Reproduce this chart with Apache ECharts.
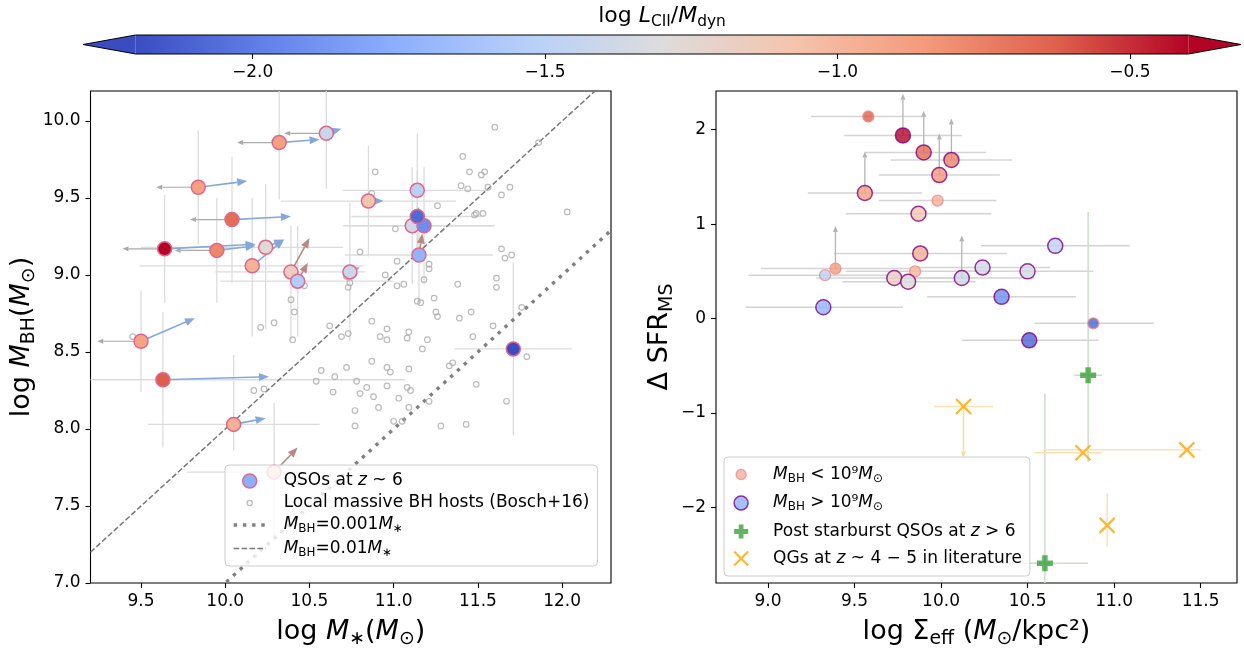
<!DOCTYPE html>
<html>
<head>
<meta charset="utf-8">
<script src="https://cdn.jsdelivr.net/npm/echarts@6/dist/echarts.min.js"></script>
<style>
  html, body { margin: 0; padding: 0; background: #ffffff; }
  #chart { width: 1244px; height: 656px; }
</style>
</head>
<body>
<div id="chart"></div>
<script>
// ---------------- data ----------------
// Left panel: z~6 quasars  [log M*, log M_BH, log L_CII/M_dyn]
const qsoMass = [
  [10.60, 9.92, -1.42], [10.32, 9.86, -0.88], [9.84, 9.57, -0.88], [10.04, 9.36, -0.68],
  [9.64, 9.17, -0.40], [9.95, 9.16, -0.78], [10.24, 9.18, -1.27], [10.16, 9.06, -0.98],
  [10.39, 9.02, -1.17], [10.43, 8.96, -1.55], [10.74, 9.02, -1.42], [10.85, 9.48, -1.08],
  [11.11, 9.32, -1.38], [11.18, 9.32, -1.92], [11.14, 9.38, -2.08], [11.14, 9.55, -1.50],
  [11.15, 9.13, -1.72], [9.50, 8.57, -0.90], [9.63, 8.32, -0.62], [10.05, 8.03, -0.97],
  [10.29, 7.72, -1.10], [11.71, 8.52, -2.20]
];
// uncertainties [x low, x high, y low, y high]
const qsoMassErr = [
  [0, 0, 0.36, 0.36], [0, 0, 0.37, 0.37], [0, 0, 0.37, 0.37], [0, 0, 0.41, 0.41],
  [0, 0, 0.35, 0.35], [0, 0, 0.34, 0.34], [0.74, 0.46, 0.53, 0.41], [0.67, 0.66, 0.46, 0.44],
  [0.45, 0.44, 0.44, 0.30], [0.46, 0.57, 0.36, 0.36], [0, 0, 0.45, 0.45], [0.52, 0.52, 0.36, 0.36],
  [0.41, 0.48, 0.38, 0.38], [0.45, 0.42, 0.38, 0.38], [0.39, 0.38, 0.30, 0.30], [0.44, 0.42, 0.37, 0.37],
  [0.44, 0.44, 0.31, 0.31], [0, 0, 0.33, 0.33], [1.44, 1.44, 0.44, 0.44], [0.51, 0.51, 0.17, 0.45],
  [0.52, 0.29, 0.45, 0.45], [0.35, 0.35, 0.56, 0.56]
];
// stellar-mass upper limits [x0, y0, x1, y1]
const mstarUpperLimits = [
  [10.60, 9.92, 10.35, 9.92], [10.32, 9.86, 10.07, 9.86], [9.84, 9.57, 9.59, 9.57],
  [10.04, 9.36, 9.79, 9.36], [9.64, 9.17, 9.39, 9.17], [9.95, 9.16, 9.70, 9.16],
  [9.50, 8.57, 9.24, 8.57]
];
// shifts toward the corrected estimates [x0, y0, x1, y1]
const shiftsBlue = [
  [10.60, 9.92, 10.69, 9.95], [10.32, 9.86, 10.56, 9.88], [9.84, 9.57, 10.13, 9.61],
  [10.04, 9.36, 10.39, 9.38], [9.64, 9.17, 10.18, 9.20], [9.95, 9.16, 10.18, 9.19],
  [10.24, 9.18, 10.35, 9.23], [10.16, 9.06, 10.35, 9.23], [10.74, 9.02, 10.80, 9.05],
  [10.85, 9.48, 10.94, 9.48], [9.50, 8.57, 9.82, 8.72], [9.63, 8.32, 10.26, 8.34],
  [10.05, 8.03, 10.24, 8.07]
];
const shiftsBrown = [
  [10.39, 9.02, 10.50, 9.24], [10.43, 8.96, 10.49, 9.08], [11.15, 9.13, 11.17, 9.27],
  [11.11, 9.32, 11.15, 9.44], [10.29, 7.72, 10.43, 7.88]
];
// local massive BH hosts (Bosch+16) [log M*, log M_BH]
const localBosch = [
  [10.89, 9.67], [10.87, 9.53], [10.80, 9.15], [10.95, 9.00], [10.72, 8.99], [10.74, 8.95],
  [10.73, 8.92], [10.47, 8.93], [10.39, 8.84], [10.41, 8.76], [10.29, 8.69], [10.21, 8.66],
  [10.62, 8.67], [10.87, 8.70], [10.96, 8.65], [10.69, 8.60], [10.73, 8.62], [10.92, 8.60],
  [9.45, 8.60], [10.40, 8.58], [11.60, 9.96], [11.86, 9.86], [11.41, 9.77], [11.45, 9.67],
  [11.52, 9.65], [11.54, 9.67], [11.40, 9.58], [11.44, 9.56], [11.56, 9.57], [11.69, 9.57],
  [11.64, 9.52], [11.26, 9.45], [11.48, 9.39], [11.49, 9.40], [11.53, 9.40], [12.03, 9.41],
  [11.01, 9.30], [11.02, 9.09], [11.64, 9.17], [11.66, 9.11], [11.70, 9.13], [11.21, 9.07],
  [11.21, 9.04], [11.02, 8.93], [11.06, 8.94], [11.18, 8.97], [11.38, 8.94], [11.61, 8.98],
  [11.61, 8.92], [11.14, 8.83], [11.16, 8.82], [11.24, 8.85], [11.25, 8.76], [11.26, 8.73],
  [11.46, 8.76], [11.39, 8.72], [11.76, 8.79], [11.59, 8.67], [11.09, 8.63], [11.08, 8.59],
  [11.20, 8.58], [11.47, 8.60], [10.96, 8.58], [10.17, 8.25], [10.23, 8.26], [10.57, 8.38],
  [10.65, 8.34], [10.72, 8.40], [10.54, 8.31], [10.64, 8.24], [10.78, 8.31], [10.80, 8.23],
  [10.84, 8.27], [10.88, 8.21], [10.87, 8.44], [10.96, 8.40], [10.96, 8.28], [10.91, 8.14],
  [10.77, 8.12], [10.77, 8.02], [11.17, 8.52], [10.98, 8.37], [11.09, 8.39], [11.08, 8.27],
  [11.10, 8.25], [11.03, 8.20], [11.00, 8.05], [11.05, 8.05], [11.09, 8.14], [11.21, 8.18],
  [11.33, 8.41], [11.35, 8.43], [11.49, 8.29], [11.28, 8.02], [11.43, 8.03], [11.67, 8.18],
  [11.79, 8.47]
];
// constant M_BH / M* ratios drawn as reference lines
const massRatios = [0.001, 0.01];

// Right panel: [log Sigma_eff, Delta SFR_MS, log L_CII/M_dyn]
const sigmaLowBH = [
  [9.58, 2.14, -0.62], [9.98, 1.25, -0.97], [9.39, 0.53, -0.86],
  [9.33, 0.46, -1.50], [9.85, 0.50, -1.00], [10.88, -0.05, -2.10]
];
const sigmaLowBHErr = [[0.33, 0.33], [0.34, 0.34], [0.43, 0.45], [0.44, 0.43], [0.40, 0.40], [0.34, 0.35]];
const sigmaHighBH = [
  [9.78, 1.94, -0.40], [9.90, 1.76, -0.66], [10.06, 1.68, -0.76], [9.99, 1.52, -0.84],
  [9.56, 1.33, -0.88], [9.87, 1.11, -1.08], [9.88, 0.69, -0.95], [9.73, 0.43, -1.17],
  [9.81, 0.39, -1.28], [10.12, 0.43, -1.40], [9.32, 0.12, -1.73], [10.66, 0.77, -1.50],
  [10.24, 0.54, -1.38], [10.50, 0.50, -1.37], [10.35, 0.23, -1.92], [10.51, -0.23, -2.10]
];
const sigmaHighBHErr = [
  [0.34, 0.34], [0.34, 0.36], [0.35, 0.35], [0.35, 0.35], [0.33, 0.33], [0.42, 0.42],
  [0.50, 0.50], [0.45, 0.45], [0.38, 0.39], [0.42, 0.42], [0.45, 0.46], [0.43, 0.43],
  [0.40, 0.39], [0.38, 0.38], [0.43, 0.43], [0.39, 0.40]
];
// SFR lower limits [x, y0, y1]
const sfrLowerLimits = [
  [9.78, 1.94, 2.38], [9.90, 1.76, 2.20], [10.06, 1.68, 2.12], [9.99, 1.52, 1.96],
  [9.56, 1.33, 1.77], [9.39, 0.53, 0.98], [10.12, 0.43, 0.88]
];
const postStarburst = [[10.85, -0.60], [10.60, -2.59]];
const postStarburstErr = [[0.08, 0.08, 0.92, 1.73], [0.26, 0.25, 1.80, 1.80]];
const quiescent = [[10.13, -0.93], [10.82, -1.42], [11.42, -1.39], [10.96, -2.19]];
const quiescentErr = [[0.17, 0.17, 0, 0], [0.28, 0.11, 0, 0], [0.83, 0.08, 0, 0], [0, 0, 0.22, 0.34]];
const quiescentUpper = [[10.13, -0.93, -1.47]];

// tick positions
const leftXTicks = [9.5, 10.0, 10.5, 11.0, 11.5, 12.0];
const leftYTicks = [7.0, 7.5, 8.0, 8.5, 9.0, 9.5, 10.0];
const rightXTicks = [9.0, 9.5, 10.0, 10.5, 11.0, 11.5];
const rightYTicks = [-2, -1, 0, 1, 2];
const cbarTicks = [-2.0, -1.5, -1.0, -0.5];
const cbarRange = [-2.2, -0.4];

// ---------------- styling helpers ----------------
const FONT = 'DejaVu Sans';
const COOLWARM = ['#3b4cc0', '#6282ea', '#8db0fe', '#b8d0f9', '#dddcdc',
                  '#f5c4ad', '#f49a7b', '#de604d', '#b40426'];
const LEFT_X = [9.2, 12.29], LEFT_Y = [7.0, 10.195];
const RIGHT_X = [8.70, 11.71], RIGHT_Y = [-2.80, 2.41];

const minus = s => s.replace('-', '\u2212');
const fmt1 = v => minus(v.toFixed(1));
const fmt0 = v => minus(v.toFixed(0));

function richSet(fs, lh) {
  const sub = Math.round(fs * 0.7 * 10) / 10;
  return {
    n: { fontSize: fs, fontFamily: FONT, color: '#000', lineHeight: lh },
    i: { fontSize: fs, fontFamily: FONT, fontStyle: 'italic', color: '#000', lineHeight: lh },
    s: { fontSize: sub, fontFamily: FONT, color: '#000', lineHeight: sub, verticalAlign: 'bottom' }
  };
}

function valueAxis(grid, range, ticks, formatter, name, nameGap) {
  return {
    type: 'value', gridIndex: grid, min: range[0], max: range[1],
    axisLine: { show: false, onZero: false },
    axisTick: { show: true, length: 5, lineStyle: { color: '#000', width: 1.1 }, customValues: ticks },
    axisLabel: { customValues: ticks, formatter: formatter, fontSize: 17, fontFamily: FONT, color: '#000', margin: 10 },
    splitLine: { show: false },
    name: name, nameLocation: 'middle', nameGap: nameGap,
    nameTextStyle: { rich: richSet(27, 34) }
  };
}

function clipRect(cs) {
  return { type: 'rect', shape: { x: cs.x, y: cs.y, width: cs.width, height: cs.height } };
}

// error bars: value rows [x, y, xlo, xhi, ylo, yhi]
function errorRenderer(color, width) {
  return function (params, api) {
    const x = api.value(0), y = api.value(1);
    const xlo = api.value(2), xhi = api.value(3), ylo = api.value(4), yhi = api.value(5);
    const kids = [];
    if (xlo || xhi) {
      const a = api.coord([x - xlo, y]), b = api.coord([x + xhi, y]);
      kids.push({ type: 'line', shape: { x1: a[0], y1: a[1], x2: b[0], y2: b[1] }, style: { stroke: color, lineWidth: width } });
    }
    if (ylo || yhi) {
      const a = api.coord([x, y - ylo]), b = api.coord([x, y + yhi]);
      kids.push({ type: 'line', shape: { x1: a[0], y1: a[1], x2: b[0], y2: b[1] }, style: { stroke: color, lineWidth: width } });
    }
    return { type: 'group', children: kids, clipPath: clipRect(params.coordSys) };
  };
}

// arrows: value rows [x0, y0, x1, y1]
function arrowRenderer(color, width, headLen, headW) {
  return function (params, api) {
    const p0 = api.coord([api.value(0), api.value(1)]);
    const p1 = api.coord([api.value(2), api.value(3)]);
    const dx = p1[0] - p0[0], dy = p1[1] - p0[1];
    const L = Math.hypot(dx, dy) || 1;
    const ux = dx / L, uy = dy / L;
    const bx = p1[0] - ux * headLen, by = p1[1] - uy * headLen;
    return {
      type: 'group',
      children: [
        { type: 'line', shape: { x1: p0[0], y1: p0[1], x2: bx, y2: by }, style: { stroke: color, lineWidth: width } },
        { type: 'polygon', shape: { points: [[p1[0], p1[1]], [bx - uy * headW / 2, by + ux * headW / 2], [bx + uy * headW / 2, by - ux * headW / 2]] }, style: { fill: color } }
      ]
    };
  };
}

const withErr = (pts, errs) => pts.map((p, i) => [p[0], p[1]].concat(
  errs[i].length === 2 ? [errs[i][0], errs[i][1], 0, 0] : errs[i]));
const vertical = rows => rows.map(r => [r[0], r[1], r[0], r[2]]);
const ratioLine = r => [[LEFT_X[0], LEFT_X[0] + Math.log10(r)], [LEFT_X[1], LEFT_X[1] + Math.log10(r)]];

// ---------------- legend text ----------------
const N_QSO = 'QSOs at z~6';
const N_LOCAL = 'Local massive BH hosts (Bosch+16)';
const N_R3 = 'M_BH=0.001M*';
const N_R2 = 'M_BH=0.01M*';
const N_LOW = 'M_BH<1e9';
const N_HIGH = 'M_BH>1e9';
const N_PSB = 'Post starburst QSOs at z>6';
const N_QG = 'QGs at z~4-5 in literature';
const legendLabel = {};
legendLabel[N_QSO] = '{n|QSOs at }{i|z}{n| ~ 6}';
legendLabel[N_LOCAL] = '{n|Local massive BH hosts (Bosch+16)}';
legendLabel[N_R3] = '{i|M}{s|BH}{n|=0.001}{i|M}{s|\u2217}';
legendLabel[N_R2] = '{i|M}{s|BH}{n|=0.01}{i|M}{s|\u2217}';
legendLabel[N_LOW] = '{i|M}{s|BH}{n| < 10\u2079}{i|M}{s|\u2299}';
legendLabel[N_HIGH] = '{i|M}{s|BH}{n| > 10\u2079}{i|M}{s|\u2299}';
legendLabel[N_PSB] = '{n|Post starburst QSOs at }{i|z}{n| > 6}';
legendLabel[N_QG] = '{n|QGs at }{i|z}{n| ~ 4 \u2212 5 in literature}';

const PINK_EDGE = '#e0668c';
const PURPLE = '#800080';
const GREEN = '#3aa03a';
const ORANGE = '#ffa500';
const DOTTED = { color: '#808080', width: 3.4, type: [3.4, 5.8] };
const DASHED = { color: '#777777', width: 1.5, type: [5.5, 2.4] };
const PLUS_PATH = 'path://M3.3,0H6.7V3.3H10V6.7H6.7V10H3.3V6.7H0V3.3H3.3Z';
const X_PATH = 'path://M0,0L10,10M10,0L0,10';
const SMALL_CIRCLE = 'path://M0,0M14,14M9.6,7A2.6,2.6,0,1,1,4.4,7A2.6,2.6,0,1,1,9.6,7Z';
const MID_CIRCLE = 'path://M0,0M14,14M12,7A5,5,0,1,1,2,7A5,5,0,1,1,12,7Z';

const legendBase = {
  orient: 'vertical', itemWidth: 32, itemHeight: 14, z: 10, selectedMode: false,
  backgroundColor: 'rgba(255,255,255,0.8)', borderColor: '#cccccc', borderWidth: 1, borderRadius: 4,
  formatter: name => legendLabel[name],
  textStyle: { fontSize: 17, fontFamily: FONT, color: '#000', padding: [0, 0, 0, 13], rich: richSet(17, 20) }
};

// ---------------- chart ----------------
const chart = echarts.init(document.getElementById('chart'));
chart.setOption({
  animation: false,
  backgroundColor: '#ffffff',
  grid: [
    { left: 90.5, top: 91, width: 520.5, height: 492, show: true, borderColor: '#000', borderWidth: 1.1, backgroundColor: 'transparent' },
    { left: 716, top: 91, width: 521, height: 492, show: true, borderColor: '#000', borderWidth: 1.1, backgroundColor: 'transparent' },
    { left: 135.6, top: 35, width: 1052.8, height: 19, show: false }
  ],
  xAxis: [
    valueAxis(0, LEFT_X, leftXTicks, fmt1, '{n|log }{i|M}{s|\u2217}{n|(}{i|M}{s|\u2299}{n|)}', 32),
    valueAxis(1, RIGHT_X, rightXTicks, fmt1, '{n|log \u03a3}{s|eff}{n| (}{i|M}{s|\u2299}{n|/kpc\u00b2)}', 32),
    Object.assign(valueAxis(2, cbarRange, cbarTicks, fmt1, '', 0), { position: 'bottom' }),
    {
      type: 'value', gridIndex: 2, position: 'top', min: 0, max: 1,
      axisLine: { show: false, onZero: false }, axisTick: { show: false }, axisLabel: { show: false }, splitLine: { show: false },
      name: '{n|log }{i|L}{s|CII}{n|/}{i|M}{s|dyn}', nameLocation: 'middle', nameGap: 6,
      nameTextStyle: { rich: richSet(22, 26) }
    }
  ],
  yAxis: [
    valueAxis(0, LEFT_Y, leftYTicks, fmt1, '{n|log }{i|M}{s|BH}{n|(}{i|M}{s|\u2299}{n|)}', 35),
    valueAxis(1, RIGHT_Y, rightYTicks, fmt0, '{n|\u0394 SFR}{s|MS}', 34),
    { type: 'value', gridIndex: 2, min: 0, max: 1, show: false, axisLine: { onZero: false } }
  ],
  visualMap: {
    type: 'continuous', show: false, min: cbarRange[0], max: cbarRange[1], dimension: 2,
    seriesIndex: [7, 10, 11], inRange: { color: COOLWARM }
  },
  legend: [
    Object.assign({}, legendBase, {
      left: 225, top: 465, padding: [7.5, 8, 7.5, 7], itemGap: 5,
      data: [
        { name: N_QSO, icon: 'circle', itemStyle: { color: '#8db0fe', borderColor: PINK_EDGE, borderWidth: 1.5 } },
        { name: N_LOCAL, icon: SMALL_CIRCLE, itemStyle: { color: 'rgba(0,0,0,0)', borderColor: '#aaaaaa', borderWidth: 1.2 } },
        { name: N_R3, itemStyle: { opacity: 0 }, lineStyle: DOTTED },
        { name: N_R2, itemStyle: { opacity: 0 }, lineStyle: DASHED }
      ]
    }),
    Object.assign({}, legendBase, {
      left: 724, top: 457, padding: [9, 8, 9, 9], itemGap: 10,
      textStyle: Object.assign({}, legendBase.textStyle, { padding: [0, 0, 0, 11] }),
      data: [
        { name: N_LOW, icon: MID_CIRCLE, itemStyle: { color: '#f4b39b', borderColor: '#ef8a8a', borderWidth: 1.3 } },
        { name: N_HIGH, icon: 'circle', itemStyle: { color: '#8db0fe', borderColor: PURPLE, borderWidth: 1.5 } },
        { name: N_PSB, icon: PLUS_PATH, itemStyle: { color: GREEN, borderWidth: 0 } },
        { name: N_QG, icon: X_PATH, itemStyle: { color: 'rgba(0,0,0,0)', borderColor: ORANGE, borderWidth: 2.2 } }
      ]
    })
  ],
  series: [
    // 0: left error bars
    { type: 'custom', xAxisIndex: 0, yAxisIndex: 0, z: 1, silent: true,
      renderItem: errorRenderer('#dcdcdc', 1.3), data: withErr(qsoMass, qsoMassErr), encode: { x: 0, y: 1 } },
    // 1: local hosts
    { type: 'scatter', name: N_LOCAL, xAxisIndex: 0, yAxisIndex: 0, z: 2, silent: true,
      symbol: 'circle', symbolSize: 5.6,
      itemStyle: { color: 'rgba(0,0,0,0)', borderColor: '#aaaaaa', borderWidth: 1.2 }, data: localBosch },
    // 2, 3: constant-ratio lines
    { type: 'line', name: N_R3, xAxisIndex: 0, yAxisIndex: 0, z: 2, silent: true, symbol: 'none', showSymbol: false, clip: true,
      itemStyle: { color: '#808080', opacity: 0 }, lineStyle: DOTTED, data: ratioLine(massRatios[0]) },
    { type: 'line', name: N_R2, xAxisIndex: 0, yAxisIndex: 0, z: 2, silent: true, symbol: 'none', showSymbol: false, clip: true,
      itemStyle: { color: '#777777', opacity: 0 }, lineStyle: DASHED, data: ratioLine(massRatios[1]) },
    // 4-6: arrows
    { type: 'custom', xAxisIndex: 0, yAxisIndex: 0, z: 3, silent: true,
      renderItem: arrowRenderer('#aaaaaa', 1.2, 6, 5), data: mstarUpperLimits, encode: { x: [0, 2], y: [1, 3] } },
    { type: 'custom', xAxisIndex: 0, yAxisIndex: 0, z: 3, silent: true,
      renderItem: arrowRenderer('#84a8dc', 1.6, 10, 8), data: shiftsBlue, encode: { x: [0, 2], y: [1, 3] } },
    { type: 'custom', xAxisIndex: 0, yAxisIndex: 0, z: 3, silent: true,
      renderItem: arrowRenderer('#b88a84', 1.6, 10, 8), data: shiftsBrown, encode: { x: [0, 2], y: [1, 3] } },
    // 7: quasars
    { type: 'scatter', name: N_QSO, xAxisIndex: 0, yAxisIndex: 0, z: 4, silent: true,
      symbol: 'circle', symbolSize: 14,
      itemStyle: { color: '#8db0fe', borderColor: PINK_EDGE, borderWidth: 1.5, opacity: 1 }, data: qsoMass },
    // 8: right error bars
    { type: 'custom', xAxisIndex: 1, yAxisIndex: 1, z: 1, silent: true,
      renderItem: errorRenderer('#d4d4d4', 1.5),
      data: withErr(sigmaLowBH, sigmaLowBHErr).concat(withErr(sigmaHighBH, sigmaHighBHErr)), encode: { x: 0, y: 1 } },
    // 9: lower limits
    { type: 'custom', xAxisIndex: 1, yAxisIndex: 1, z: 2, silent: true,
      renderItem: arrowRenderer('#b4b4b4', 1.3, 6, 5), data: vertical(sfrLowerLimits), encode: { x: [0, 2], y: [1, 3] } },
    // 10, 11: quasars split by black hole mass
    { type: 'scatter', name: N_LOW, xAxisIndex: 1, yAxisIndex: 1, z: 4, silent: true,
      symbol: 'circle', symbolSize: 11,
      itemStyle: { color: '#f4b39b', borderColor: '#ef8a8a', borderWidth: 1.3 }, data: sigmaLowBH },
    { type: 'scatter', name: N_HIGH, xAxisIndex: 1, yAxisIndex: 1, z: 4, silent: true,
      symbol: 'circle', symbolSize: 15,
      itemStyle: { color: '#8db0fe', borderColor: PURPLE, borderWidth: 1.5 }, data: sigmaHighBH },
    // 12-14: comparison samples' uncertainties
    { type: 'custom', xAxisIndex: 1, yAxisIndex: 1, z: 1, silent: true,
      renderItem: errorRenderer('#c9dfc9', 1.5), data: withErr(postStarburst, postStarburstErr), encode: { x: 0, y: 1 } },
    { type: 'custom', xAxisIndex: 1, yAxisIndex: 1, z: 1, silent: true,
      renderItem: errorRenderer('#fde0b4', 1.5), data: withErr(quiescent, quiescentErr), encode: { x: 0, y: 1 } },
    { type: 'custom', xAxisIndex: 1, yAxisIndex: 1, z: 1, silent: true,
      renderItem: arrowRenderer('#fbd9a6', 1.5, 6, 5), data: vertical(quiescentUpper), encode: { x: [0, 2], y: [1, 3] } },
    // 15, 16: comparison samples
    { type: 'scatter', name: N_PSB, xAxisIndex: 1, yAxisIndex: 1, z: 5, silent: true,
      symbol: PLUS_PATH, symbolSize: 16, itemStyle: { color: GREEN }, data: postStarburst },
    { type: 'scatter', name: N_QG, xAxisIndex: 1, yAxisIndex: 1, z: 5, silent: true,
      symbol: X_PATH, symbolSize: 15,
      itemStyle: { color: 'rgba(0,0,0,0)', borderColor: ORANGE, borderWidth: 2.2 }, data: quiescent },
    // 17: colour bar
    { type: 'custom', xAxisIndex: 2, yAxisIndex: 2, z: 2, silent: true, clip: false,
      data: [[cbarRange[0], cbarRange[1]]], encode: { x: [0, 1] },
      renderItem: function (params, api) {
        const a = api.coord([api.value(0), 1]);
        const b = api.coord([api.value(1), 0]);
        const ext = (b[0] - a[0]) * 0.05;
        const midY = (a[1] + b[1]) / 2;
        const grad = new echarts.graphic.LinearGradient(0, 0, 1, 0,
          COOLWARM.map((c, i) => ({ offset: i / (COOLWARM.length - 1), color: c })));
        return {
          type: 'group',
          children: [
            { type: 'rect', shape: { x: a[0], y: a[1], width: b[0] - a[0], height: b[1] - a[1] }, style: { fill: grad } },
            { type: 'polygon', shape: { points: [[a[0] - ext, midY], [a[0], a[1]], [a[0], b[1]]] }, style: { fill: COOLWARM[0] } },
            { type: 'polygon', shape: { points: [[b[0] + ext, midY], [b[0], a[1]], [b[0], b[1]]] }, style: { fill: COOLWARM[COOLWARM.length - 1] } },
            { type: 'polygon', shape: { points: [[a[0] - ext, midY], [a[0], a[1]], [b[0], a[1]], [b[0] + ext, midY], [b[0], b[1]], [a[0], b[1]]] },
              style: { fill: 'none', stroke: '#000', lineWidth: 1 } }
          ]
        };
      }
    }
  ]
});
</script>
</body>
</html>
